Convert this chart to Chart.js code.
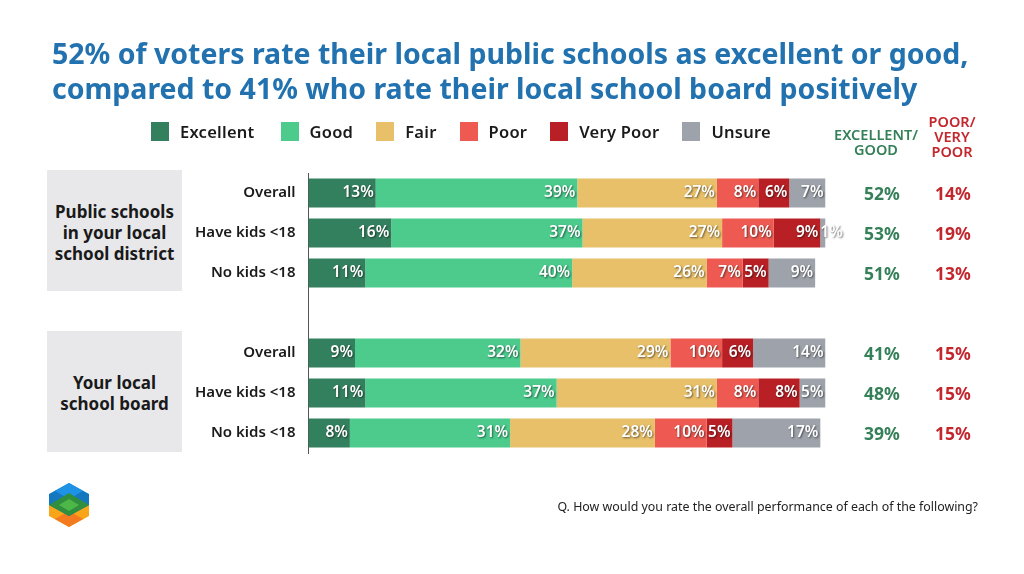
<!DOCTYPE html>
<html>
<head>
<meta charset="utf-8">
<title>School ratings</title>
<script src="https://cdn.jsdelivr.net/npm/chart.js@4"></script>
<style>
  html, body { margin: 0; padding: 0; background: #fff; }
  body { width: 1024px; height: 574px; position: relative; overflow: hidden; font-family: "Noto Sans", sans-serif; }
  canvas { position: absolute; left: 0; top: 0; }
  .abs { position: absolute; }
  #title { left: 52px; top: 36px; width: 960px; color: #2272B0; font-size: 28.5px; font-weight: 700; line-height: 35px; white-space: nowrap; }
  #legend { left: 151px; top: 122px; display: flex; font-size: 16.5px; font-weight: 600; color: #1a1a1a; line-height: 19px; letter-spacing: 0.25px; }
  #legend div { display: flex; margin-right: 23px; }
  #legend div:first-child { margin-right: 26px; }
  #legend i { width: 18px; height: 19px; margin-right: 11px; display: block; }
  .box { left: 47px; width: 135px; height: 118px; padding-top: 3px; background: #E8E8EA; display: flex; align-items: center; justify-content: center; text-align: center; font-size: 17px; font-weight: 700; line-height: 21px; color: #1a1a1a; }
  .head { text-align: center; font-size: 14.5px; font-weight: 600; line-height: 15px; transform: translateX(-50%); }
  #note { right: 46px; top: 498px; font-size: 12.4px; color: #222; white-space: nowrap; }
</style>
</head>
<body>
<canvas id="myChart" width="1024" height="574"></canvas>
<div class="abs" id="title">52% of voters rate their local public schools as excellent or good,<br>compared to 41% who rate their local school board positively</div>
<div class="abs" id="legend"></div>
<div class="abs box" style="top:170px">Public schools<br>in your local<br>school district</div>
<div class="abs box" style="top:331px">Your local<br>school board</div>
<div class="abs head" style="left:876px;top:127px;color:#358059">EXCELLENT/<br>GOOD</div>
<div class="abs head" style="left:952px;top:114px;color:#C2272D">POOR/<br>VERY<br>POOR</div>
<div class="abs" id="note">Q. How would you rate the overall performance of each of the following?</div>
<svg class="abs" style="left:0;top:0" width="100" height="574">
  <polygon points="49,505 49,516 69,527 89,516 89,505 69,494" fill="#F9A51A"/>
  <polygon points="69,527 55,519 69,511 83,519" fill="#F47A1F"/>
  <polygon points="69,483 89,494 89,505 69,516 49,505 49,494" fill="#1478BE"/>
  <polygon points="69,483 83,491 69,499 55,491" fill="#1E93E6"/>
  <polygon points="69,493 89,505 69,516 49,505" fill="#2F8F3E"/>
  <polygon points="69,499 79,505 69,511 59,505" fill="#4DB848"/>
</svg>
<script>
const categories = ['Overall', 'Have kids <18', 'No kids <18', '', 'Overall', 'Have kids <18', 'No kids <18'];

const excellent = [13, 16, 11, null, 9, 11, 8];
const good = [39, 37, 40, null, 32, 37, 31];
const fair = [27, 27, 26, null, 29, 31, 28];
const poor = [8, 10, 7, null, 10, 8, 10];
const veryPoor = [6, 9, 5, null, 6, 8, 5];
const unsure = [7, 1, 9, null, 14, 5, 17];

const excellentGood = ['52%', '53%', '51%', '', '41%', '48%', '39%'];
const poorVeryPoor = ['14%', '19%', '13%', '', '15%', '15%', '15%'];

const seriesNames = ['Excellent', 'Good', 'Fair', 'Poor', 'Very Poor', 'Unsure'];
const seriesValues = [excellent, good, fair, poor, veryPoor, unsure];
const seriesColors = ['#33805E', '#4CCB8D', '#E8C06A', '#EE5A52', '#B82025', '#9EA3AB'];

const FONT = '"Noto Sans", sans-serif';

// legend sits in its own row, not centred on the canvas
document.getElementById('legend').innerHTML = seriesNames.map((n, i) =>
    '<div><i style="background:' + seriesColors[i] + '"></i>' + n + '</div>').join('');

// percent labels inside the bars + the two summary columns
const barLabels = {
    id: 'barLabels',
    afterDatasetsDraw(chart) {
        const c = chart.ctx;
        c.save();
        c.textBaseline = 'middle';
        c.font = '600 15.5px ' + FONT;
        chart.data.datasets.forEach((ds, d) => {
            chart.getDatasetMeta(d).data.forEach((bar, i) => {
                if (ds.data[i] == null) return;
                const txt = ds.data[i] + '%';
                const narrow = c.measureText(txt).width > bar.width;
                c.shadowColor = 'rgba(0,0,0,0.55)';
                c.shadowBlur = 2;
                c.shadowOffsetX = 1;
                c.shadowOffsetY = 1;
                c.fillStyle = '#fff';
                c.textAlign = narrow ? 'left' : 'right';
                c.fillText(txt, narrow ? bar.base : bar.x - 2, bar.y);
            });
        });
        c.shadowColor = 'transparent';
        c.font = '700 17.5px ' + FONT;
        c.textAlign = 'center';
        categories.forEach((cat, i) => {
            const y = chart.scales.y.getPixelForValue(i) + 2;
            c.fillStyle = '#358059';
            c.fillText(excellentGood[i], 882, y);
            c.fillStyle = '#C2272D';
            c.fillText(poorVeryPoor[i], 953, y);
        });
        c.restore();
    }
};

const ctx = document.getElementById('myChart').getContext('2d');
const myChart = new Chart(ctx, {
    type: 'bar',
    data: {
        labels: categories,
        datasets: seriesNames.map((n, i) => ({
            label: n,
            data: seriesValues[i],
            backgroundColor: seriesColors[i],
            barPercentage: 0.73,
            categoryPercentage: 1
        }))
    },
    options: {
        indexAxis: 'y',
        responsive: false,
        animation: false,
        layout: { padding: { top: 173, bottom: 121, left: 0, right: 198.5 } },
        plugins: { legend: { display: false }, tooltip: { enabled: false } },
        scales: {
            x: { stacked: true, min: 0, max: 100, display: false },
            y: {
                stacked: true,
                afterFit(scale) { scale.width = 308.5; },
                grid: { display: false, drawTicks: false },
                border: { display: true, color: '#555', width: 1 },
                ticks: { autoSkip: false, padding: 13, color: '#1a1a1a', font: { family: FONT, size: 15, weight: '600' } }
            }
        }
    },
    plugins: [barLabels]
});
</script>
</body>
</html>
